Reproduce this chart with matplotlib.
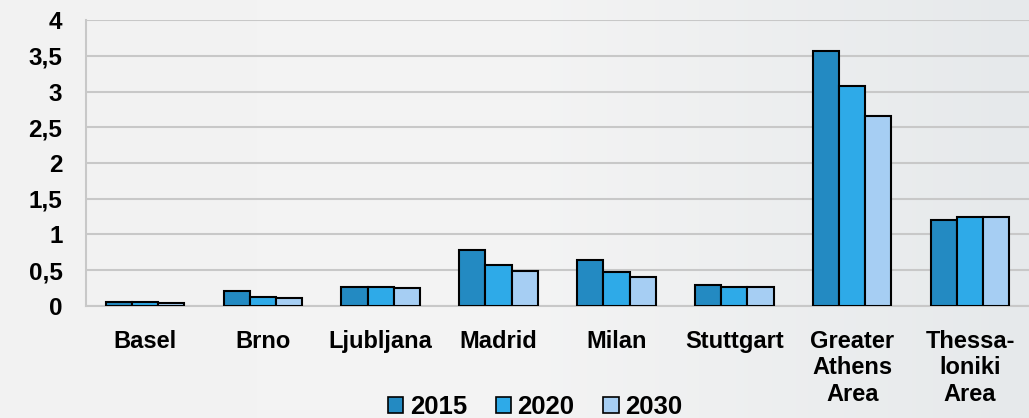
import numpy as np
import matplotlib
matplotlib.use("Agg")
import matplotlib.pyplot as plt
from matplotlib.patches import Patch
from matplotlib.colors import LinearSegmentedColormap

plt.rcParams['font.family'] = ['Liberation Sans', 'DejaVu Sans']

categories = ["Basel", "Brno", "Ljubljana", "Madrid", "Milan", "Stuttgart",
              "Greater\nAthens\nArea", "Thessa-\nloniki\nArea"]
series_names = ["2015", "2020", "2030"]
v2015 = [0.06, 0.21, 0.27, 0.78, 0.64, 0.29, 3.57, 1.20]
v2020 = [0.055, 0.12, 0.27, 0.58, 0.47, 0.27, 3.08, 1.25]
v2030 = [0.045, 0.11, 0.256, 0.49, 0.41, 0.265, 2.66, 1.24]
colors = ["#238AC2", "#2EAAE8", "#A6CEF3"]
yticks = [0, 0.5, 1, 1.5, 2, 2.5, 3, 3.5, 4]
ytick_labels = ["0", "0,5", "1", "1,5", "2", "2,5", "3", "3,5", "4"]

fig = plt.figure(figsize=(10.29, 4.18), dpi=100)

# background gradient
bg = fig.add_axes([0, 0, 1, 1], zorder=-10)
gx = np.linspace(0, 1, 256)
grad = np.outer(np.ones(2), gx)
cmap = LinearSegmentedColormap.from_list("bg", ["#f2f2f2", "#f4f4f4", "#e6e9eb"])
bg.imshow(grad, aspect='auto', cmap=cmap, extent=[0, 1, 0, 1])
bg.axis('off')

ax = fig.add_axes([0.0836, 0.268, 0.9164, 0.684])
ax.set_facecolor('none')
x = np.arange(len(categories))
w = 0.222
for i, (vals, c, name) in enumerate(zip([v2015, v2020, v2030], colors, series_names)):
    ax.bar(x + (i - 1) * w, vals, width=w, color=c, edgecolor='black',
           linewidth=1.5, label=name, zorder=3)

ax.set_xlim(-0.5, len(categories) - 0.5)
ax.set_ylim(0, 4)
ax.set_yticks(yticks)
ax.set_yticklabels(ytick_labels, fontsize=17.5, fontweight='bold')
ax.set_xticks(x)
ax.set_xticklabels(categories, fontsize=17, fontweight='bold', linespacing=1.2)
ax.tick_params(axis='both', length=0)
ax.tick_params(axis='y', pad=17)
ax.tick_params(axis='x', pad=17)
ax.grid(axis='y', color='#c8c8c8', linewidth=1.5, zorder=0)
for s in ['top', 'right']:
    ax.spines[s].set_visible(False)
ax.spines['left'].set_color('#c8c8c8')
ax.spines['left'].set_linewidth(1.5)
ax.spines['bottom'].set_color('#c8c8c8')
ax.spines['bottom'].set_linewidth(1.5)

handles = [Patch(facecolor=c, edgecolor='black', linewidth=1.2) for c in colors]
fig.legend(handles, series_names, loc='lower center', bbox_to_anchor=(0.52, -0.058),
           ncol=3, frameon=False, prop={'weight': 'bold', 'size': 18.5},
           handlelength=0.6, handleheight=0.6, handletextpad=0.25, columnspacing=1.12)

fig.savefig("out.png", dpi=100)
